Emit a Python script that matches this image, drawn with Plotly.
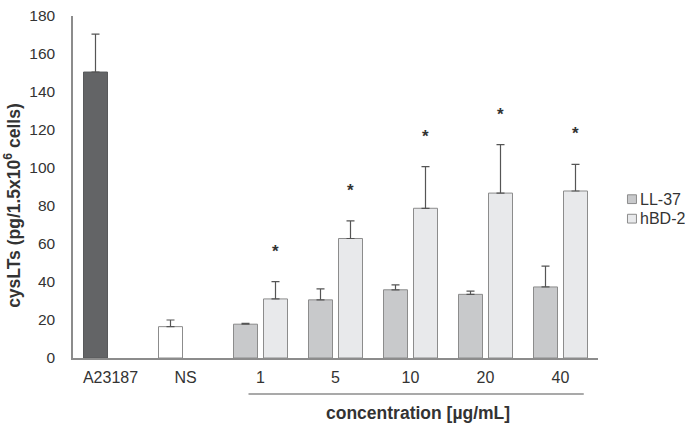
import plotly.graph_objects as go

categories = ["A23187", "NS", "1", "5", "10", "20", "40"]
a23187_val = [150.5]
a23187_err = [20.0]
ns_val = [16.5]
ns_err = [3.5]
conc = ["1", "5", "10", "20", "40"]
ll37_val = [17.8, 30.6, 35.9, 33.5, 37.4]
ll37_err = [0.5, 5.8, 2.6, 1.7, 11.0]
hbd2_val = [31.1, 62.9, 78.8, 86.8, 87.9]
hbd2_err = [9.1, 9.3, 21.9, 25.5, 14.0]
signif = [True, True, True, True, True]
legend_names = ["LL-37", "hBD-2"]
legend_colors = ["#c8c9cb", "#e8e9eb"]

FONT = "Liberation Sans"
TXT = "#333333"
EDGE = "#8c8c8c"
ERRC = "#555555"

def err(arr):
    return dict(type="data", array=arr, arrayminus=[0] * len(arr), symmetric=False,
                color=ERRC, thickness=1.2, width=4)

fig = go.Figure()
fig.add_trace(go.Bar(x=["A23187"], y=a23187_val, error_y=err(a23187_err),
                     marker=dict(color="#636466", line=dict(color="#58595b", width=1)),
                     offsetgroup="1", showlegend=False))
fig.add_trace(go.Bar(x=["NS"], y=ns_val, error_y=err(ns_err),
                     marker=dict(color="#ffffff", line=dict(color=EDGE, width=1)),
                     offsetgroup="1", showlegend=False))
fig.add_trace(go.Bar(x=conc, y=ll37_val, error_y=err(ll37_err), name=legend_names[0],
                     marker=dict(color=legend_colors[0], line=dict(color=EDGE, width=1)),
                     offsetgroup="1", showlegend=False))
fig.add_trace(go.Bar(x=conc, y=hbd2_val, error_y=err(hbd2_err), name=legend_names[1],
                     marker=dict(color=legend_colors[1], line=dict(color=EDGE, width=1)),
                     offsetgroup="2", showlegend=False))

annotations = []
for i, c in enumerate(conc):
    if signif[i]:
        annotations.append(dict(x=i + 2, xref="x", y=hbd2_val[i] + hbd2_err[i], yref="y",
                                text="<b>*</b>", showarrow=False, xshift=15, yshift=19,
                                yanchor="bottom", font=dict(family=FONT, size=17, color=TXT)))

annotations.append(dict(x=(12 - 73) / 525.5, xref="paper", y=0.445, yref="paper", textangle=-90,
                        xanchor="center", yanchor="middle",
                        text="<b>cysLTs (pg/1.5x10<sup>6</sup> cells)</b>", showarrow=False,
                        font=dict(family=FONT, size=17.5, color=TXT)))
annotations.append(dict(x=4.1, xref="x", y=-0.16, yref="paper",
                        xanchor="center", yanchor="middle",
                        text="<b>concentration [µg/mL]</b>", showarrow=False,
                        font=dict(family=FONT, size=17.5, color=TXT)))

shapes = [dict(type="line", xref="x", yref="paper", x0=1.84, x1=6.31, y0=-0.105, y1=-0.105,
               line=dict(color="#8c8c8c", width=1.5))]

# manual legend
for k, (nm, col) in enumerate(zip(legend_names, legend_colors)):
    yc = 195 + 20 * k
    yp = (358 - yc) / 351.0
    h = 4.5 / 351.0
    x0 = (628 - 73) / 525.5
    x1 = (637 - 73) / 525.5
    shapes.append(dict(type="rect", xref="paper", yref="paper", x0=x0, x1=x1,
                       y0=yp - h, y1=yp + h, fillcolor=col,
                       line=dict(color=EDGE, width=1)))
    annotations.append(dict(x=(639 - 73) / 525.5, xref="paper", y=yp, yref="paper",
                            xanchor="left", yanchor="middle", text=nm, showarrow=False,
                            font=dict(family=FONT, size=16, color=TXT)))

fig.update_layout(
    width=685, height=427,
    margin=dict(l=73, r=86.5, t=7, b=69),
    paper_bgcolor="white", plot_bgcolor="white",
    barmode="group", bargap=0.2, bargroupgap=0.2,
    font=dict(family=FONT, size=15, color=TXT),
    showlegend=False,
    xaxis=dict(type="category", categoryorder="array", categoryarray=categories,
               showline=True, linecolor="#8c8c8c", linewidth=1.5, ticks="",
               showgrid=False, tickfont=dict(family=FONT, size=16, color=TXT),
               range=[-0.5, 6.5], ticklabelstandoff=4),
    yaxis=dict(range=[0, 180], dtick=20, showline=True, linecolor="#8c8c8c", linewidth=1.5,
               ticks="", showgrid=False, zeroline=False, ticklabeloverflow="allow",
               tickfont=dict(family=FONT, size=15.5, color=TXT), ticklabelstandoff=13),
    annotations=annotations,
    shapes=shapes,
)

fig.write_html("out.html", config={"displayModeBar": False},
               post_script="document.body.style.margin='0';document.body.style.overflow='hidden';")
